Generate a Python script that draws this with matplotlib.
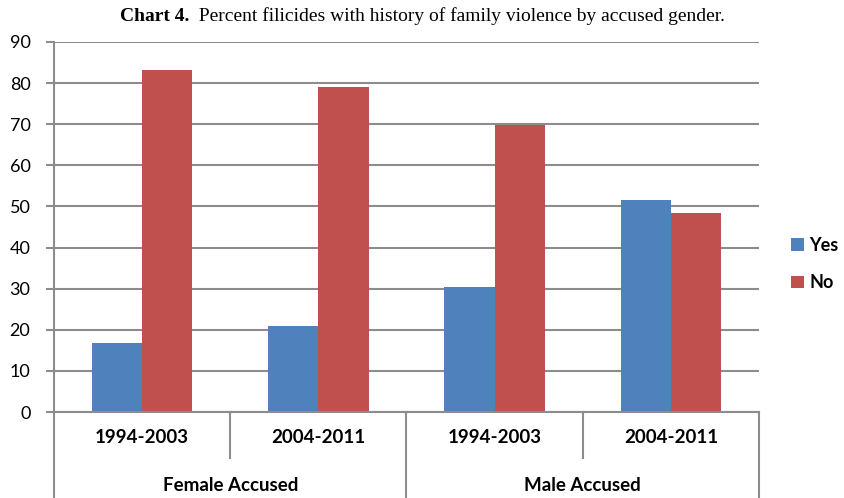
import matplotlib
matplotlib.use("Agg")
import matplotlib.pyplot as plt
import numpy as np

# 数据
periods = ["1994-2003", "2004-2011", "1994-2003", "2004-2011"]
groups = ["Female Accused", "Male Accused"]
yes_pct = [16.7, 20.9, 30.3, 51.6]
no_pct = [83.3, 79.1, 69.7, 48.4]

BLUE = "#4F81BD"
RED = "#C0504D"
GRID = "#8C8C8C"
W, H = 844, 498

plt.rcParams["font.family"] = ["Lato", "DejaVu Sans"]

fig = plt.figure(figsize=(W / 100, H / 100), dpi=100)
left, right, bottom, top = 54, 759, 412, 42
ax = fig.add_axes([left / W, (H - bottom) / H, (right - left) / W, (bottom - top) / H])

x = np.arange(len(periods))
bw = 0.2857
ax.bar(x - bw / 2, yes_pct, bw, color=BLUE, label="Yes", zorder=3)
ax.bar(x + bw / 2, no_pct, bw, color=RED, label="No", zorder=3)

ax.set_xlim(-0.5, len(periods) - 0.5)
ax.set_ylim(0, 90)
ax.set_yticks(range(0, 91, 10))
ax.yaxis.grid(True, color=GRID, linewidth=1.5, zorder=0)
ax.set_axisbelow(True)
for s in ["top", "right", "bottom"]:
    ax.spines[s].set_visible(False)
ax.spines["left"].set_color(GRID)
ax.spines["left"].set_linewidth(1.5)
ax.tick_params(axis="y", color=GRID, width=1.5, length=6, pad=11, labelsize=13)
ax.set_xticks([])

# ── 两级分类轴 ──
tr = ax.get_xaxis_transform()
ah = bottom - top
def fy(py):
    return -(py - bottom) / ah

ax.plot([-0.5, len(periods) - 0.5], [0, 0], transform=tr, color=GRID, lw=1.5, clip_on=False, zorder=4)
for b in [0.5, 2.5]:
    ax.plot([b, b], [0, fy(458)], transform=tr, color=GRID, lw=1.5, clip_on=False)
for b in [-0.5, 1.5, 3.5]:
    ax.plot([b, b], [0, fy(H + 2)], transform=tr, color=GRID, lw=1.5, clip_on=False)
for i, p in enumerate(periods):
    ax.text(i, fy(437), p, transform=tr, ha="center", va="center",
            fontsize=13.5, fontweight="bold")
for i, g in enumerate(groups):
    ax.text(2 * i + 0.5, fy(485), g, transform=tr, ha="center", va="center",
            fontsize=13.5, fontweight="bold")

# 图例
fig.legend(loc="center left", bbox_to_anchor=(791 / W, 1 - 264 / H), frameon=False,
           handlelength=0.7, handleheight=0.7, handletextpad=0.3, labelspacing=1.15,
           borderpad=0, borderaxespad=0, prop={"weight": "bold", "size": 13})

# 标题
t1 = fig.text(120 / W, 1 - 21 / H, "Chart 4.", fontsize=14, fontweight="bold",
              family="Liberation Serif", va="baseline")
fig.canvas.draw()
ax.annotate("  Percent filicides with history of family violence by accused gender.",
            xy=(1, 0), xycoords=t1, va="bottom", fontsize=14,
            family="Liberation Serif", annotation_clip=False)

plt.savefig("out.png", dpi=100)
plt.close()
